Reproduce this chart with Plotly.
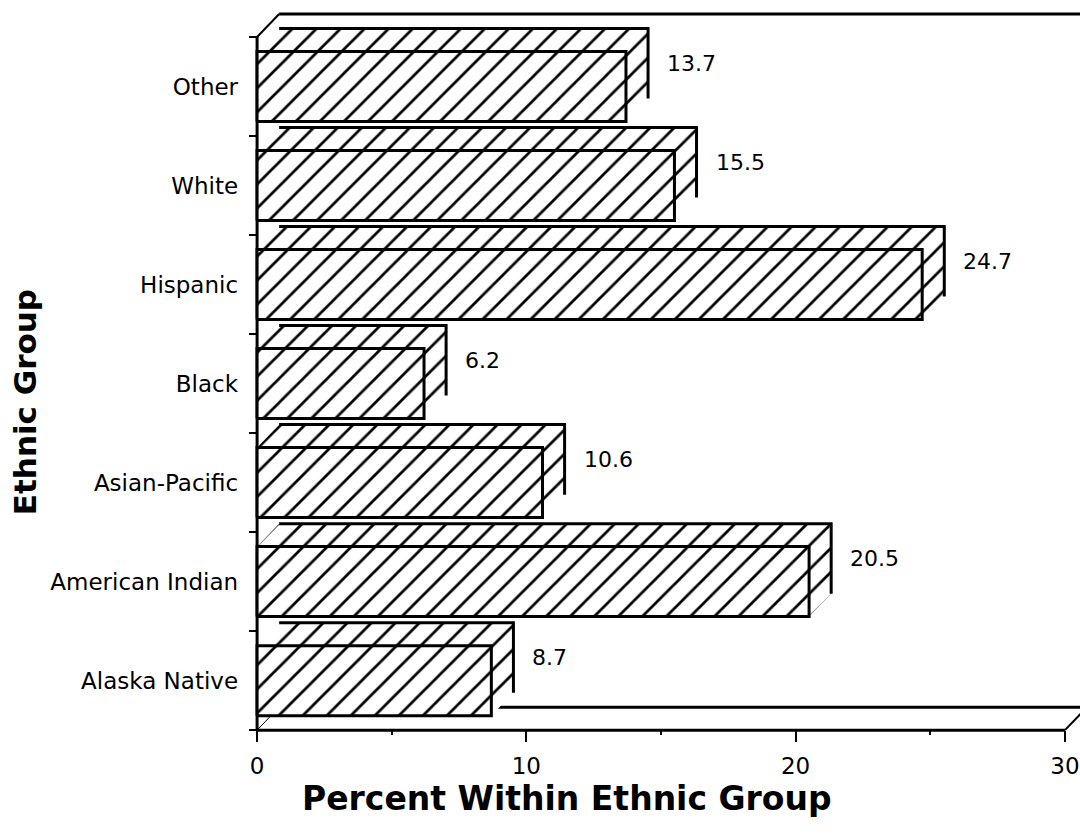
import plotly.graph_objects as go

# Percent within each ethnic group (bottom to top)
groups = ["Alaska Native", "American Indian", "Asian-Pacific", "Black",
          "Hispanic", "White", "Other"]
percents = [8.7, 20.5, 10.6, 6.2, 24.7, 15.5, 13.7]
x_ticks = [0, 10, 20, 30]
x_minor_ticks = [5, 15, 25]

# pseudo-3D extrusion of each bar, in axis units
DEPTH_X = 0.82
DEPTH_Y = 0.232
BAR_W = 0.707
X_MAX = 30

W, H = 1080, 836
AXIS_PX_X = 257          # pixel column of x = 0
AXIS_PX_Y = 730          # pixel row of the floor edge
PX_PER_X = 26.93
PX_PER_CAT = 99.0
PAD_X = 0.3              # room left of x = 0 so edge strokes are not clipped
PAD_Y = 0.15             # room below the floor edge

pos = list(range(len(groups)))
Y_LO = -0.5
Y_HI = len(groups) - 0.5

x_min = -PAD_X
x_max = (W - AXIS_PX_X) / PX_PER_X
y_min = Y_LO - PAD_Y
y_max = Y_LO + AXIS_PX_Y / PX_PER_CAT
M_L = AXIS_PX_X - PAD_X * PX_PER_X
M_B = H - AXIS_PX_Y - PAD_Y * PX_PER_CAT
plot_h = H - M_B
plot_w = W - M_L

FONT = "DejaVu Sans"
hatch = dict(shape="/", size=17, solidity=0.16, fgcolor="black",
             bgcolor="white", fgopacity=1)

fig = go.Figure()

# front faces
fig.add_trace(go.Bar(
    y=pos, x=percents, orientation="h", width=BAR_W,
    marker=dict(color="white", pattern=hatch, line=dict(width=0)),
    hoverinfo="skip", showlegend=False,
))

# top and side faces of each bar
for p, v in zip(pos, percents):
    y0, y1 = p - BAR_W / 2, p + BAR_W / 2
    fig.add_trace(go.Scatter(
        x=[0, DEPTH_X, v + DEPTH_X, v + DEPTH_X, v, v, 0],
        y=[y1, y1 + DEPTH_Y, y1 + DEPTH_Y, y0 + DEPTH_Y, y0, y1, y1],
        mode="none", fill="toself", fillcolor="white", fillpattern=hatch,
        hoverinfo="skip", showlegend=False,
    ))

# outlines: visible back edges and the front rectangle
for p, v in zip(pos, percents):
    y0, y1 = p - BAR_W / 2, p + BAR_W / 2
    fig.add_trace(go.Scatter(
        x=[DEPTH_X, v + DEPTH_X, v + DEPTH_X, None, 0, v, v, 0, 0],
        y=[y1 + DEPTH_Y, y1 + DEPTH_Y, y0 + DEPTH_Y, None, y0, y0, y1, y1, y0],
        mode="lines", line=dict(color="black", width=3),
        hoverinfo="skip", showlegend=False,
    ))

# box frame: left wall edge, top back edge and floor
frame = [
    ((0, Y_LO), (0, Y_HI), 3),
    ((0, Y_HI), (DEPTH_X, Y_HI + DEPTH_Y), 2),
    ((DEPTH_X, Y_HI + DEPTH_Y), (X_MAX + DEPTH_X, Y_HI + DEPTH_Y), 3),
    ((0, Y_LO), (X_MAX, Y_LO), 3),
    ((DEPTH_X, Y_LO + DEPTH_Y), (X_MAX + DEPTH_X, Y_LO + DEPTH_Y), 3),
    ((X_MAX, Y_LO), (X_MAX + DEPTH_X, Y_LO + DEPTH_Y), 2),
    ((0, Y_LO), (DEPTH_X, Y_LO + DEPTH_Y), 1),
]
for (xa, ya), (xb, yb), lw in frame:
    fig.add_shape(type="line", xref="x", yref="y", x0=xa, y0=ya, x1=xb, y1=yb,
                  line=dict(color="black", width=lw), layer="below")

# value labels beside each bar
for p, v in zip(pos, percents):
    fig.add_annotation(
        x=v + DEPTH_X, y=p + DEPTH_Y, text=f"{v}", showarrow=False,
        xanchor="left", yanchor="middle", xshift=17,
        font=dict(family=FONT, size=22, color="black"),
    )

# axis titles
fig.add_annotation(
    xref="paper", yref="paper", x=(567 - M_L) / plot_w, y=-(798 - plot_h) / plot_h,
    text="Percent Within Ethnic Group", showarrow=False,
    xanchor="center", yanchor="middle",
    font=dict(family=FONT, size=33, color="black", weight="bold"),
)
fig.add_annotation(
    xref="paper", yref="paper", x=0, xshift=25 - M_L, y=(plot_h - 402) / plot_h,
    text="Ethnic Group", showarrow=False, textangle=-90,
    xanchor="center", yanchor="middle",
    font=dict(family=FONT, size=31, color="black", weight="bold"),
)

fig.update_xaxes(
    range=[x_min, x_max], anchor="free", position=(Y_LO - y_min) / (y_max - y_min),
    showline=False, showgrid=False, zeroline=False,
    tickmode="array", tickvals=x_ticks, ticks="outside", ticklen=11,
    tickwidth=2, tickcolor="black", ticklabelstandoff=4,
    tickfont=dict(family=FONT, size=23, color="black"),
    minor=dict(tickmode="array", tickvals=x_minor_ticks, ticks="outside",
               ticklen=4, tickwidth=2, tickcolor="black", showgrid=False),
)
fig.update_yaxes(
    range=[y_min, y_max], anchor="free", position=(0 - x_min) / (x_max - x_min),
    showline=False, showgrid=False, zeroline=False,
    tickmode="array", tickvals=pos, ticktext=groups, ticks="",
    ticklabelstandoff=19,
    tickfont=dict(family=FONT, size=23, color="black"),
    minor=dict(tickmode="array", tickvals=[Y_LO + i for i in range(len(groups) + 1)],
               ticks="outside", ticklen=8, tickwidth=2, tickcolor="black",
               showgrid=False),
)

fig.update_layout(
    width=W, height=H,
    margin=dict(l=M_L, r=0, t=0, b=M_B, pad=0),
    paper_bgcolor="white", plot_bgcolor="white",
    bargap=0, showlegend=False,
)

fig.write_html("out.html")
